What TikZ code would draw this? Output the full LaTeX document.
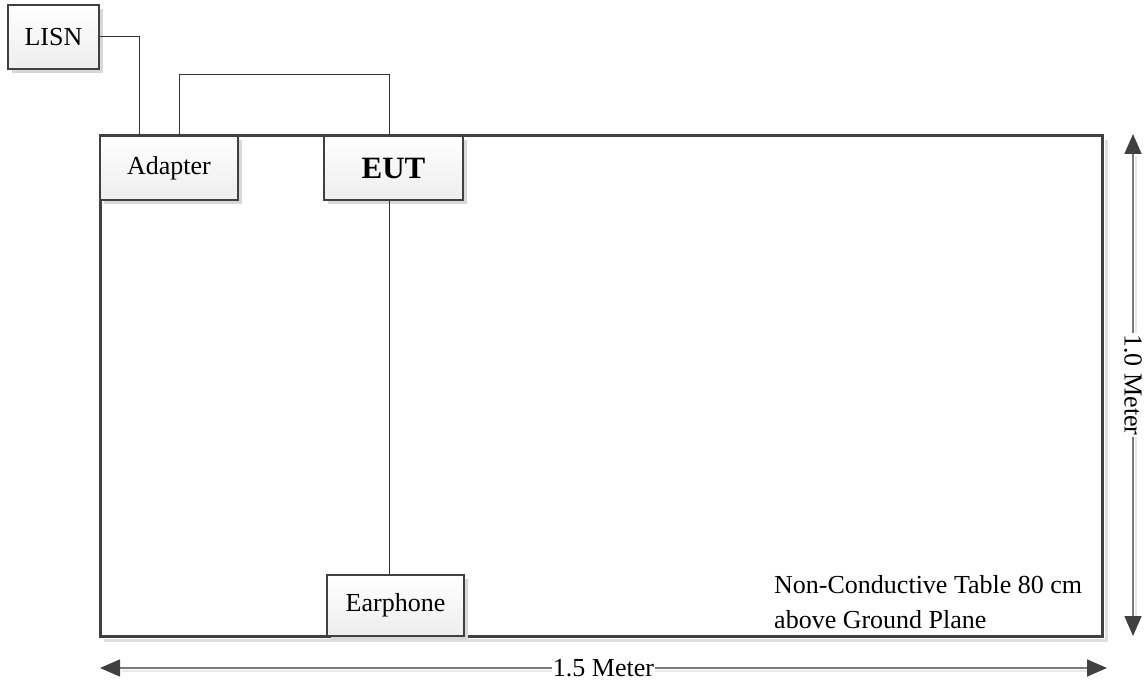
\documentclass[tikz,border=0pt]{standalone}
\usepackage{fontspec}
\setmainfont{Liberation Serif}
\usetikzlibrary{arrows.meta,shadows,calc}
\definecolor{edge}{HTML}{404040}
\definecolor{wire}{HTML}{333333}
\definecolor{dim}{HTML}{7A7A7A}
\definecolor{shade}{HTML}{D8D8D8}
\tikzset{
  devbox/.style={draw=edge, line width=2.6pt, top color=white, bottom color=gray!14,
    minimum width=#1, inner sep=0pt, font=\fontsize{26}{31}\selectfont,
    drop shadow={shadow xshift=4pt, shadow yshift=-4pt, fill=shade, opacity=1}},
  wireline/.style={draw=wire, line width=1pt},
  dimline/.style={draw=dim, line width=1.6pt, {Triangle[length=20pt,width=17pt,fill=edge,color=edge]}-{Triangle[length=20pt,width=17pt,fill=edge,color=edge]}},
  dimshadow/.style={draw=gray!18, line width=1.6pt},
  dimlabel/.style={fill=white, inner sep=1pt, font=\fontsize{26}{31}\selectfont}
}
\begin{document}
\begin{tikzpicture}[x=1pt,y=-1pt]
\useasboundingbox (0,0) rectangle (1148,684);
% table
\draw[draw=gray!25, line width=3pt] (104,640) -- (1106,640) -- (1106,140);
\draw[draw=edge, line width=3pt] (100,136) rectangle (1102,636);
% devices
\node[devbox=91pt, minimum height=64pt] (lisn) at (53.5,37) {LISN};
\node[devbox=138pt, minimum height=64pt] (adapter) at (169,168) {Adapter};
\node[devbox=139pt, minimum height=64pt, font=\fontsize{31}{36}\selectfont\bfseries] (eut) at (393.5,168) {EUT};
\node[devbox=137pt, minimum height=61pt] (ear) at (395.5,605.5) {Earphone};
% wires
\draw[wireline] (lisn.east) -| ([xshift=41pt]adapter.north west);
\draw[wireline] ([xshift=81pt]adapter.north west) -- ++(0,-60) -| ([xshift=-4pt]eut.north);
\draw[wireline] ([xshift=-4pt]eut.south) -- ([xshift=-4pt]eut.south |- ear.north);
% note
\node[anchor=north west, align=left, inner sep=0pt, font=\fontsize{26}{35}\selectfont] (note) at (774,575)
  {Non-Conductive Table 80 cm\\above Ground Plane};
% dimensions
\coordinate (hl) at (100,668);
\coordinate (hr) at (1107,668);
\coordinate (vt) at (1133,134);
\coordinate (vb) at (1133,636);
\draw[dimshadow] ($(hl)+(22,3)$) -- ($(hr)+(-20,3)$);
\draw[dimshadow] ($(vt)+(3,22)$) -- ($(vb)+(3,-20)$);
\draw[dimline] (hl) -- (hr) node[midway, dimlabel] (hlab) {1.5 Meter};
\draw[dimline] (vt) -- (vb) node[midway, dimlabel, rotate=-90] (vlab) {1.0 Meter};
\end{tikzpicture}
\end{document}
